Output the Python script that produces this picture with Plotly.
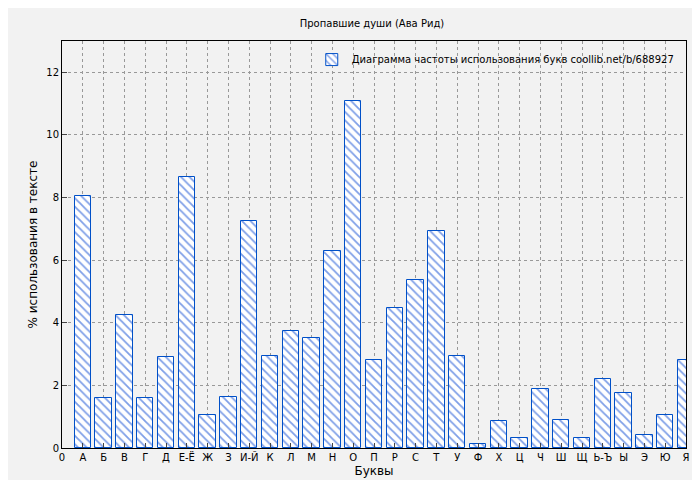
import plotly.graph_objects as go

letters = ["А","Б","В","Г","Д","Е-Ё","Ж","З","И-Й","К","Л","М","Н","О","П","Р","С","Т","У","Ф","Х","Ц","Ч","Ш","Щ","Ь-Ъ","Ы","Э","Ю","Я"]
values = [8.05,1.6,4.25,1.6,2.9,8.65,1.07,1.62,7.25,2.93,3.73,3.5,6.3,11.07,2.8,4.47,5.37,6.92,2.93,0.13,0.85,0.33,1.9,0.9,0.32,2.2,1.75,0.4,1.05,2.8]
positions = list(range(1, len(letters)+1))

fig = go.Figure(go.Bar(
    x=positions, y=values, width=0.78,
    name="Диаграмма частоты использования букв coollib.net/b/688927",
    marker=dict(color="white", line=dict(color="#0050c8", width=1),
                pattern=dict(shape="\\", fgcolor="#0040d0", bgcolor="white", size=6, solidity=0.3)),
))
fig.update_layout(
    width=700, height=480,
    paper_bgcolor="#f2f2f2", plot_bgcolor="#f2f2f2",
    margin=dict(l=54, r=22, t=33, b=40, autoexpand=False),
    font=dict(family="DejaVu Sans", size=10, color="black"),
    title=dict(text="Пропавшие души (Ава Рид)", x=0.52, y=0.975, xanchor="center", font=dict(size=10)),
    showlegend=True,
    legend=dict(x=0.99, y=0.99, xanchor="right", yanchor="top", bgcolor="rgba(0,0,0,0)",
                itemwidth=30, font=dict(size=10)),
    bargap=0,
)
fig.update_xaxes(range=[0, 30], tickvals=[0]+positions, ticktext=["0"]+letters, automargin=False,
                 showgrid=True, gridcolor="#999", griddash="dot", showline=True, linecolor="black",
                 mirror=True, ticks="inside", title=dict(text="Буквы", standoff=4), zeroline=False)
fig.update_yaxes(range=[0, 13], dtick=2, showgrid=True, gridcolor="#999", griddash="dot", automargin=False,
                 showline=True, linecolor="black", mirror=True, ticks="inside",
                 title=dict(text="% использования в тексте", standoff=6), zeroline=False)
fig.write_html("out.html")
